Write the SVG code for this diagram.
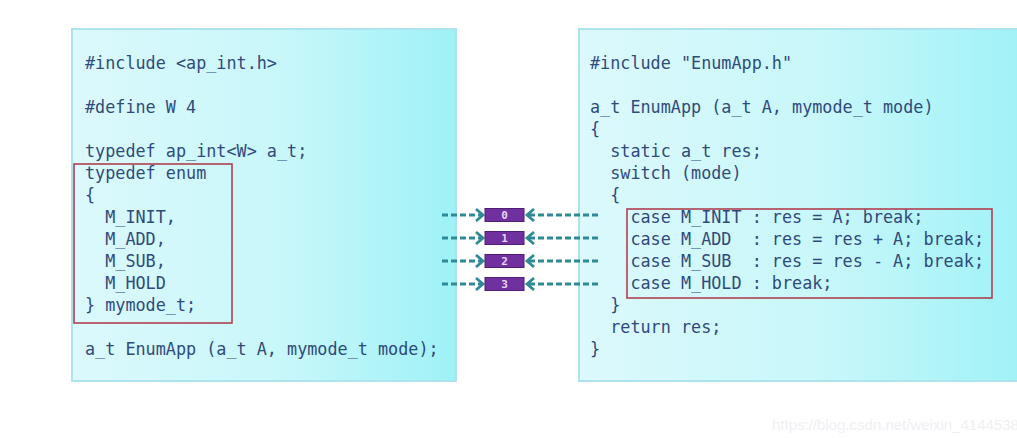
<svg xmlns="http://www.w3.org/2000/svg" width="1017" height="438" viewBox="0 0 1017 438">
<style>
.code{font-family:"DejaVu Sans Mono","Liberation Mono",monospace;font-size:16.8px;fill:#2f4b7c;white-space:pre}
.panel{stroke:#ade3ee;stroke-width:2}
.hl{fill:none;stroke:#b0404f;stroke-width:1.6}
.tag{fill:#7030a0;stroke:#4d1f73;stroke-width:1}
.num{font-family:"DejaVu Sans Mono","Liberation Mono",monospace;font-size:11px;fill:#e6d4f5;text-anchor:middle;font-weight:bold}
.dash{stroke:#2f8a96;stroke-width:3;stroke-dasharray:6,3;fill:none}
.head{stroke:#2f8a96;stroke-width:2.8;fill:none}
.wm{font-family:"Liberation Sans",Arial,sans-serif;font-size:15px;fill:#f0f0f4}
</style>
<defs>
<linearGradient id="g" x1="0" y1="0" x2="1" y2="0">
<stop offset="0" stop-color="#dcf9fc"/>
<stop offset="0.55" stop-color="#c8f7fa"/>
<stop offset="1" stop-color="#9ef2f7"/>
</linearGradient>
</defs>
<rect width="1017" height="438" fill="#ffffff"/>
<g id="header">
<rect class="panel" x="72" y="29" width="384" height="352" fill="url(#g)"/>
<text class="code" x="85" y="69">#include &lt;ap_int.h&gt;</text>
<text class="code" x="85" y="113">#define W 4</text>
<text class="code" x="85" y="157">typedef ap_int&lt;W&gt; a_t;</text>
<text class="code" x="85" y="179">typedef enum</text>
<text class="code" x="85" y="201">{</text>
<text class="code" x="85" y="223">  M_INIT,</text>
<text class="code" x="85" y="245">  M_ADD,</text>
<text class="code" x="85" y="267">  M_SUB,</text>
<text class="code" x="85" y="289">  M_HOLD</text>
<text class="code" x="85" y="311">} mymode_t;</text>
<text class="code" x="85" y="355">a_t EnumApp (a_t A, mymode_t mode);</text>
<rect class="hl" x="74" y="164" width="158" height="159"/>
</g>
<g id="source">
<rect class="panel" x="579" y="29" width="450" height="352" fill="url(#g)"/>
<text class="code" x="590" y="69">#include "EnumApp.h"</text>
<text class="code" x="590" y="113">a_t EnumApp (a_t A, mymode_t mode)</text>
<text class="code" x="590" y="135">{</text>
<text class="code" x="590" y="157">  static a_t res;</text>
<text class="code" x="590" y="179">  switch (mode)</text>
<text class="code" x="590" y="201">  {</text>
<text class="code" x="590" y="223">    case M_INIT : res = A; break;</text>
<text class="code" x="590" y="245">    case M_ADD  : res = res + A; break;</text>
<text class="code" x="590" y="267">    case M_SUB  : res = res - A; break;</text>
<text class="code" x="590" y="289">    case M_HOLD : break;</text>
<text class="code" x="590" y="311">  }</text>
<text class="code" x="590" y="333">  return res;</text>
<text class="code" x="590" y="355">}</text>
<rect class="hl" x="627" y="209" width="365" height="89"/>
</g>
<g id="connectors">
<path class="dash" d="M442 215H482M442 238H482M442 261H482M442 284H482"/>
<path class="head" d="M476 209L483 215L476 221M476 232L483 238L476 244M476 255L483 261L476 267M476 278L483 284L476 290"/>
<path class="dash" d="M598 215H528M598 238H528M598 261H528M598 284H528"/>
<path class="head" d="M534 209L527 215L534 221M534 232L527 238L534 244M534 255L527 261L534 267M534 278L527 284L534 290"/>
</g>
<g id="v0"><rect class="tag" x="485" y="208.5" width="39" height="13"/><text class="num" x="504.5" y="219">0</text></g>
<g id="v1"><rect class="tag" x="485" y="231.5" width="39" height="13"/><text class="num" x="504.5" y="242">1</text></g>
<g id="v2"><rect class="tag" x="485" y="254.5" width="39" height="13"/><text class="num" x="504.5" y="265">2</text></g>
<g id="v3"><rect class="tag" x="485" y="277.5" width="39" height="13"/><text class="num" x="504.5" y="288">3</text></g>
<text class="wm" x="772" y="430">https://blog.csdn.net/weixin_4144538</text>
</svg>
